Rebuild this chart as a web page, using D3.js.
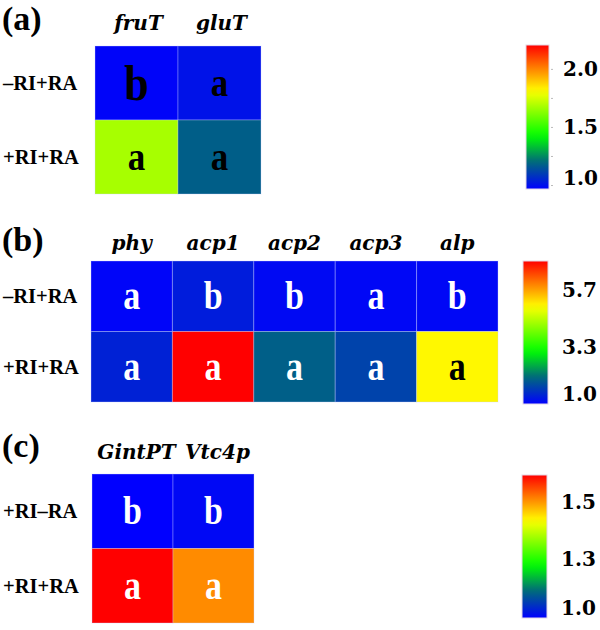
<!DOCTYPE html>
<html>
<head>
<meta charset="utf-8">
<script src="https://cdn.jsdelivr.net/npm/d3@7"></script>
<style>
  body { margin: 0; background: #fff; }
  svg { display: block; }
</style>
</head>
<body>
<svg id="chart" width="600" height="630"></svg>
<script>
// ---------- DATA ----------
const rowsA = ["\u2013RI+RA", "+RI+RA"];
const colsA = ["fruT", "gluT"];
const valuesA = [[0.98, 1.01], [1.68, 1.18]];
const lettersA = [["b", "a"], ["a", "a"]];
const domainA = [0.97, 2.21];
const ticksA = [1.0, 1.5, 2.0];

const rowsB = ["\u2013RI+RA", "+RI+RA"];
const colsB = ["phy", "acp1", "acp2", "acp3", "alp"];
const valuesB = [[0.95, 1.2, 1.0, 0.98, 0.98], [1.26, 6.92, 1.92, 1.62, 5.05]];
const lettersB = [["a", "b", "b", "a", "b"], ["a", "a", "a", "a", "a"]];
const domainB = [0.9, 6.92];
const ticksB = [1.0, 3.32, 5.7];

const rowsC = ["+RI\u2013RA", "+RI+RA"];
const colsC = ["GintPT", "Vtc4p"];
const valuesC = [[0.99, 1.0], [1.668, 1.55]];
const lettersC = [["b", "b"], ["a", "a"]];
const domainC = [0.99, 1.668];
const ticksC = [1.0, 1.27, 1.54];

// colormap stops (fraction of domain -> colour)
const cmapStops = [0, 0.19, 0.37, 0.68, 1];
const cmapColors = ["#0000ff", "#006a7a", "#00ff00", "#ffff00", "#ff0000"];

// ---------- DRAW ----------
const svg = d3.select("#chart");
const defs = svg.append("defs");
const cmap = d3.scaleLinear().domain(cmapStops).range(cmapColors).interpolate(d3.interpolateRgb).clamp(true);

const panels = [
  { tag: "(a)", tagY: 30, rows: rowsA, cols: colsA, values: valuesA, letters: lettersA, domain: domainA, ticks: ticksA,
    heat: [95, 261, 46, 194], colLabelY: 30, colShift: 2, bar: [526, 549, 45, 189], letterColor: () => "#000", minorTicks: true,
    letterSize: (r, c, l) => (l === "b" ? 44 : 35) },
  { tag: "(b)", tagY: 251, rows: rowsB, cols: colsB, values: valuesB, letters: lettersB, domain: domainB, ticks: ticksB,
    heat: [91, 498, 261, 402], colLabelY: 250, colShift: 0, bar: [523, 548, 261, 404],
    letterColor: (v, t) => (t > 0.55 && t < 0.8 ? "#000" : "#fff"), minorTicks: false, letterSize: () => 34 },
  { tag: "(c)", tagY: 457, rows: rowsC, cols: colsC, values: valuesC, letters: lettersC, domain: domainC, ticks: ticksC,
    heat: [92, 254, 474, 623], colLabelY: 459, colShift: 4, bar: [522, 547, 475, 618], letterColor: () => "#fff", minorTicks: false,
    letterSize: () => 34 }
];

panels.forEach((p, pi) => {
  const g = svg.append("g");
  const x = d3.scaleBand().domain(p.cols).range([p.heat[0], p.heat[1]]);
  const y = d3.scaleBand().domain(p.rows).range([p.heat[2], p.heat[3]]);
  const norm = d3.scaleLinear().domain(p.domain).range([0, 1]);

  // panel tag
  g.append("text").attr("x", 2).attr("y", p.tagY)
    .attr("font-family", "'Liberation Serif', serif").attr("font-weight", "bold")
    .attr("font-size", 34).attr("fill", "#000").text(p.tag);

  // cells
  const cells = [];
  p.rows.forEach((r, ri) => p.cols.forEach((c, ci) => cells.push({ r, c, ri, ci, v: p.values[ri][ci], l: p.letters[ri][ci] })));

  g.selectAll("rect.cell").data(cells).join("rect")
    .attr("x", d => x(d.c)).attr("y", d => y(d.r))
    .attr("width", x.bandwidth()).attr("height", y.bandwidth())
    .attr("fill", d => cmap(norm(d.v)))
    .attr("stroke", "rgba(200,210,255,0.35)").attr("stroke-width", 1);

  g.selectAll("text.letter").data(cells).join("text")
    .attr("transform", d => `translate(${x(d.c) + x.bandwidth() / 2},${y(d.r) + y.bandwidth() / 2}) scale(1,1.15)`)
    .attr("dy", "0.33em")
    .attr("text-anchor", "middle")
    .attr("font-family", "'Liberation Serif', serif").attr("font-weight", "bold")
    .attr("font-size", d => p.letterSize(d.ri, d.ci, d.l))
    .attr("fill", d => p.letterColor(d.v, norm(d.v)))
    .text(d => d.l);

  // column labels
  g.selectAll("text.col").data(p.cols).join("text")
    .attr("x", d => x(d) + x.bandwidth() / 2 + p.colShift).attr("y", p.colLabelY)
    .attr("text-anchor", "middle")
    .attr("font-family", "'DejaVu Serif', serif").attr("font-weight", "bold").attr("font-style", "italic")
    .attr("font-size", 20).attr("fill", "#000").text(d => d);

  // row labels
  g.selectAll("text.row").data(p.rows).join("text")
    .attr("x", 3).attr("y", d => y(d) + y.bandwidth() / 2)
    .attr("dy", "0.35em")
    .attr("font-family", "'Liberation Serif', serif").attr("font-weight", "bold")
    .attr("font-size", 20.5).attr("fill", "#000").text(d => d);

  // colour bar
  const gid = "grad" + pi;
  const grad = defs.append("linearGradient").attr("id", gid)
    .attr("x1", 0).attr("y1", 1).attr("x2", 0).attr("y2", 0);
  d3.range(0, 1.0001, 0.05).forEach(t => grad.append("stop").attr("offset", t).attr("stop-color", cmap(t)));

  const [bx0, bx1, by0, by1] = p.bar;
  const bs = d3.scaleLinear().domain(p.domain).range([by1, by0]);
  g.append("rect").attr("x", bx0).attr("y", by0).attr("width", bx1 - bx0).attr("height", by1 - by0)
    .attr("fill", `url(#${gid})`).attr("stroke", "#e4d8e4").attr("stroke-width", 1);

  if (p.minorTicks) {
    const mt = d3.range(p.ticks[0], p.ticks[p.ticks.length - 1] + 0.001, (p.ticks[1] - p.ticks[0]) / 2);
    g.selectAll("line.mt").data(mt).join("line")
      .attr("x1", bx1 + 2).attr("x2", bx1 + 4)
      .attr("y1", d => bs(d)).attr("y2", d => bs(d))
      .attr("stroke", "#bbb").attr("stroke-width", 1);
  }

  g.selectAll("text.tick").data(p.ticks).join("text")
    .attr("x", bx1 + 14)
    .attr("y", (d, i) => bs(d) - (i === 0 ? 8 : 0))
    .attr("dy", "0.35em")
    .attr("font-family", "'DejaVu Serif', serif").attr("font-weight", "bold")
    .attr("font-size", 20).attr("fill", "#000")
    .text(d => d3.format(".1f")(d));
});
</script>
</body>
</html>
